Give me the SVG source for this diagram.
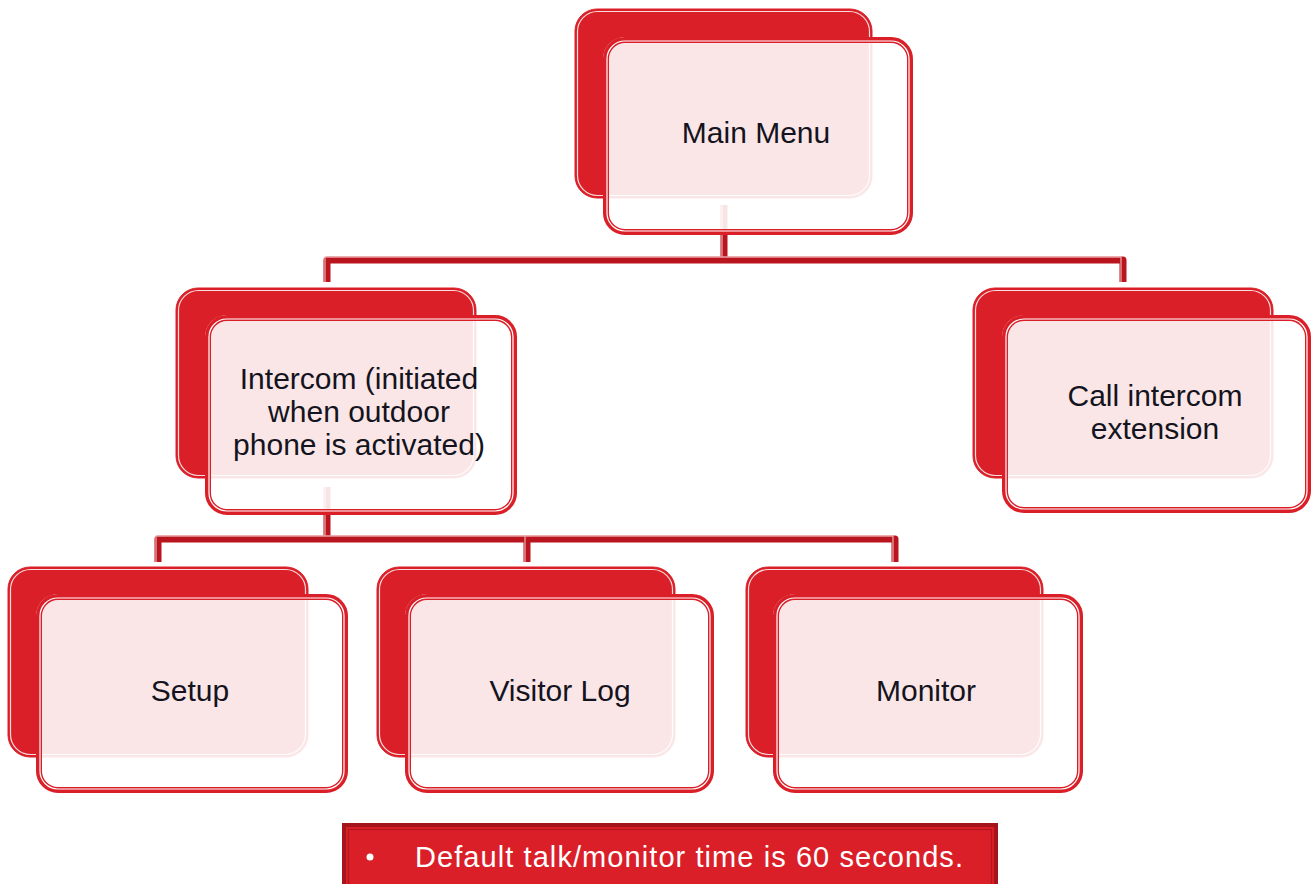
<svg xmlns="http://www.w3.org/2000/svg" width="1314" height="884" viewBox="0 0 1314 884">
<style>
.back{fill:#DA1F28;stroke:#DA1F28;stroke-width:1}
.backline{fill:none;stroke:#ffffff;stroke-width:1.2;stroke-opacity:0.85}
.frontfill{fill:#ffffff;fill-opacity:0.89}
.frontstroke{fill:none;stroke:#DA1F28;stroke-width:6}
.frontline{fill:none;stroke:#ffffff;stroke-width:1.2}
.lbl{font-family:"Liberation Sans",Arial,sans-serif;font-size:30px;fill:#141420;text-anchor:middle}
.conn{fill:none;stroke:#B8151E;stroke-width:7;stroke-linejoin:round}
.connline{fill:none;stroke:#F6C4C6;stroke-width:1.3;stroke-opacity:0.8;stroke-linejoin:round}
.note{font-family:"Liberation Sans",Arial,sans-serif;font-size:29px;fill:#ffffff}
</style>
<rect width="1314" height="884" fill="#ffffff"/>
<g id="connectors">
<path class="conn" d="M724 205 V260 M327 282 V260 H1123 V282"/>
<path class="connline" d="M722 205 V257 M325 282 V257 H1121 V282"/>
<path class="conn" d="M327 487 V539 M158 562 V539 H895 V562 M527 539 V562"/>
<path class="connline" d="M325 487 V536 M156 562 V536 H893 V562 M525 536 V562"/>
</g>
<g id="main-menu">
<rect class="back" x="575" y="9" width="297" height="189" rx="22"/>
<rect class="backline" x="577.5" y="11.5" width="292" height="184" rx="20"/>
<rect class="frontfill" x="603" y="37" width="310" height="198" rx="22"/>
<rect class="frontstroke" x="606" y="40" width="304" height="192" rx="19"/>
<rect class="frontline" x="607" y="41" width="302" height="190" rx="18"/>
<text class="lbl" x="756" y="143">Main Menu</text>
</g>
<g id="intercom">
<rect class="back" x="176" y="288" width="300" height="190" rx="22"/>
<rect class="backline" x="178.5" y="290.5" width="295" height="185" rx="20"/>
<rect class="frontfill" x="205" y="315" width="312" height="200" rx="22"/>
<rect class="frontstroke" x="208" y="318" width="306" height="194" rx="19"/>
<rect class="frontline" x="209" y="319" width="304" height="192" rx="18"/>
<text class="lbl" x="359" y="389">Intercom (initiated</text>
<text class="lbl" x="359" y="422">when outdoor</text>
<text class="lbl" x="359" y="455">phone is activated)</text>
</g>
<g id="call-intercom">
<rect class="back" x="973" y="288" width="300" height="190" rx="22"/>
<rect class="backline" x="975.5" y="290.5" width="295" height="185" rx="20"/>
<rect class="frontfill" x="1002" y="315" width="309" height="198" rx="22"/>
<rect class="frontstroke" x="1005" y="318" width="303" height="192" rx="19"/>
<rect class="frontline" x="1006" y="319" width="301" height="190" rx="18"/>
<text class="lbl" x="1155" y="406">Call intercom</text>
<text class="lbl" x="1155" y="439">extension</text>
</g>
<g id="setup">
<rect class="back" x="8" y="567" width="300" height="190" rx="22"/>
<rect class="backline" x="10.5" y="569.5" width="295" height="185" rx="20"/>
<rect class="frontfill" x="36" y="594" width="312" height="199" rx="22"/>
<rect class="frontstroke" x="39" y="597" width="306" height="193" rx="19"/>
<rect class="frontline" x="40" y="598" width="304" height="191" rx="18"/>
<text class="lbl" x="190" y="701">Setup</text>
</g>
<g id="visitor-log">
<rect class="back" x="377" y="567" width="298" height="190" rx="22"/>
<rect class="backline" x="379.5" y="569.5" width="293" height="185" rx="20"/>
<rect class="frontfill" x="405" y="594" width="309" height="199" rx="22"/>
<rect class="frontstroke" x="408" y="597" width="303" height="193" rx="19"/>
<rect class="frontline" x="409" y="598" width="301" height="191" rx="18"/>
<text class="lbl" x="560" y="701">Visitor Log</text>
</g>
<g id="monitor">
<rect class="back" x="746" y="567" width="297" height="190" rx="22"/>
<rect class="backline" x="748.5" y="569.5" width="292" height="185" rx="20"/>
<rect class="frontfill" x="773" y="594" width="310" height="199" rx="22"/>
<rect class="frontstroke" x="776" y="597" width="304" height="193" rx="19"/>
<rect class="frontline" x="777" y="598" width="302" height="191" rx="18"/>
<text class="lbl" x="926" y="701">Monitor</text>
</g>
<g id="note">
<rect x="344" y="825" width="652" height="64" fill="#DA1F28" stroke="#A3141B" stroke-width="4"/>
<rect x="348.5" y="829.5" width="643" height="60" fill="none" stroke="#B5161E" stroke-width="1.2"/>
<circle cx="370" cy="857" r="3.5" fill="#ffffff"/>
<text class="note" x="415" y="867" textLength="548" lengthAdjust="spacing">Default talk/monitor time is 60 seconds.</text>
</g>
</svg>
